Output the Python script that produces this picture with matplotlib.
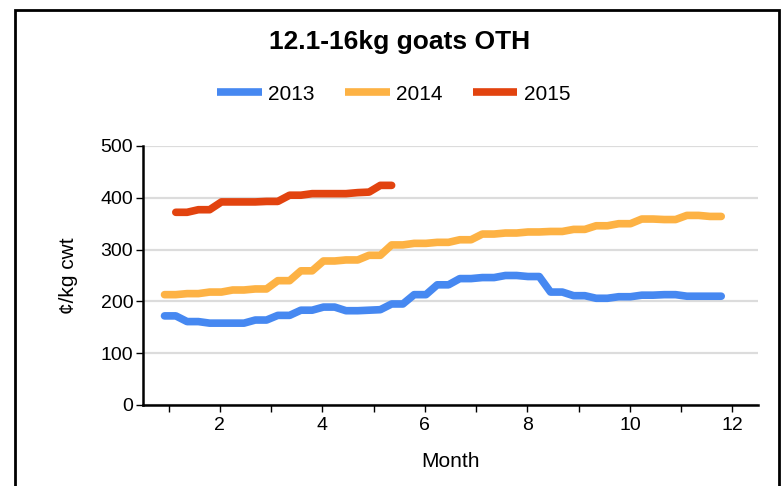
import matplotlib
matplotlib.use('Agg')
import matplotlib.pyplot as plt
from matplotlib.patches import Rectangle

plt.rcParams['font.family'] = ['Liberation Sans', 'DejaVu Sans']

# weekly points, x in months
months = [0.92, 1.14, 1.36, 1.58, 1.80, 2.03, 2.25, 2.47, 2.69, 2.91,
          3.13, 3.36, 3.58, 3.80, 4.02, 4.24, 4.46, 4.69, 4.91, 5.13,
          5.35, 5.57, 5.79, 6.02, 6.24, 6.46, 6.68, 6.90, 7.12, 7.35,
          7.57, 7.79, 8.01, 8.23, 8.45, 8.68, 8.90, 9.12, 9.34, 9.56,
          9.78, 10.01, 10.23, 10.45, 10.67, 10.89, 11.11, 11.34, 11.56, 11.78]

price_2013 = [172, 172, 161, 161, 158, 158, 158, 158, 164, 164,
              173, 173, 183, 183, 189, 189, 182, 182, 183, 184,
              195, 195, 213, 213, 232, 232, 244, 244, 246, 246,
              250, 250, 248, 248, 218, 218, 211, 211, 206, 206,
              209, 209, 212, 212, 213, 213, 210, 210, 210, 210]

price_2014 = [213, 213, 215, 215, 218, 218, 222, 222, 224, 224,
              240, 240, 259, 259, 278, 278, 280, 280, 289, 289,
              309, 309, 312, 312, 314, 314, 319, 319, 330, 330,
              332, 332, 334, 334, 335, 335, 339, 339, 346, 346,
              350, 350, 359, 359, 358, 358, 366, 366, 364, 364]

months_2015 = months[1:21]
price_2015 = [372, 372, 377, 377, 392, 392, 392, 392, 393, 393,
              405, 405, 408, 408, 408, 408, 410, 411, 424, 424]

series = [
    ('2013', months, price_2013, '#4688F1'),
    ('2014', months, price_2014, '#FDB244'),
    ('2015', months_2015, price_2015, '#E2430F'),
]

fig = plt.figure(figsize=(7.84, 4.86), dpi=100)
ax = fig.add_axes([0.1824, 0.1667, 0.7846, 0.5329])

for name, x, y, c in series:
    ax.plot(x, y, color=c, linewidth=5.5, solid_capstyle='round',
            solid_joinstyle='round', label=name, zorder=3)

ax.set_xlim(0.5, 12.5)
ax.set_ylim(0, 500)
ax.set_yticks([0, 100, 200, 300, 400, 500])
ax.set_xticks([2, 4, 6, 8, 10, 12])
ax.set_xticks([1, 3, 5, 7, 9, 11], minor=True)

ax.grid(axis='y', color='#dcdcdc', linewidth=1.6, zorder=0)
for s in ['top', 'right']:
    ax.spines[s].set_visible(False)
for s in ['left', 'bottom']:
    ax.spines[s].set_linewidth(1.8)
    ax.spines[s].set_color('black')

ax.tick_params(axis='both', which='both', direction='out', length=5, width=1, labelsize=14)
ax.tick_params(axis='y', pad=2)

ax.set_xlabel('Month', fontsize=15, labelpad=13)
ax.set_ylabel('¢/kg cwt', fontsize=15, labelpad=16)

fig.text(0.51, 0.914, '12.1-16kg goats OTH', ha='center', va='center',
         fontsize=19, fontweight='bold')

leg = fig.legend(loc='center', bbox_to_anchor=(0.502, 0.806), ncol=3, frameon=False,
                 fontsize=15, handlelength=2.15, handletextpad=0.3, columnspacing=1.45)
for h in leg.get_lines():
    h.set_solid_capstyle('butt')

fig.patches.append(Rectangle((0.019, -0.1), 0.974, 1.08, transform=fig.transFigure,
                             fill=False, edgecolor='black', linewidth=2))

fig.savefig('out.png', dpi=100)
